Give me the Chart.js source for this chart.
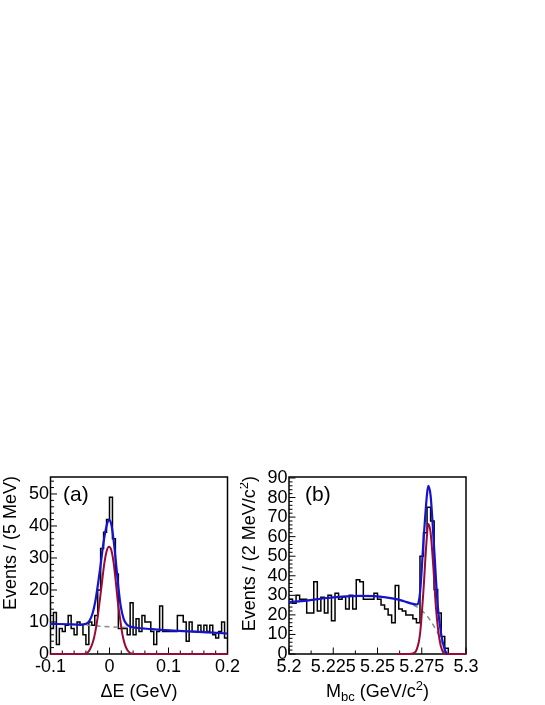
<!DOCTYPE html>
<html>
<head>
<meta charset="utf-8">
<script src="https://cdn.jsdelivr.net/npm/chart.js@4.4.1/dist/chart.umd.min.js"></script>
<style>
  html, body { margin: 0; padding: 0; background: #fff; }
  body { width: 545px; height: 705px; position: relative; overflow: hidden; }
  .panel { position: absolute; top: 460px; width: 245px; height: 245px; }
  #panelA { left: 0; }
  #panelB { left: 240px; }
</style>
</head>
<body>
<div class="panel" id="panelA"><canvas id="chartA" width="245" height="245"></canvas></div>
<div class="panel" id="panelB"><canvas id="chartB" width="245" height="245"></canvas></div>
<script>
// ---- (a) Delta E, 5 MeV bins from -0.1 to 0.2 GeV
const deLow = -0.1, deBin = 0.005;
const deCounts = [8, 13, 3, 8, 7, 9, 12, 8, 6, 10,
                  9, 6, 3, 10, 9, 12, 20, 33, 38, 42,
                  49, 36, 25, 8, 8, 8, 6, 16, 6, 11,
                  7, 12, 10, 10, 7, 3, 7, 15, 7, 7,
                  7, 7, 7, 12, 12, 10, 4, 10, 7, 7,
                  9, 7, 9, 7, 9, 6, 5, 7, 10, 5];
const deTicks = [-0.1, 0, 0.1, 0.2];
const deYTicks = [0, 10, 20, 30, 40, 50];
// fitted curves as [x, y]
const deFit = [[-0.1, 9.4], [-0.07, 9.3], [-0.05, 9.2], [-0.04, 9.4], [-0.034, 10.4], [-0.029, 12.5],
               [-0.024, 16.5], [-0.019, 22.5], [-0.015, 28], [-0.01, 35], [-0.005, 40], [-0.001, 41.9],
               [0.003, 40.5], [0.007, 35.5], [0.011, 28.5], [0.015, 21], [0.019, 15], [0.024, 11],
               [0.029, 9.3], [0.035, 8.6], [0.045, 8.2], [0.07, 7.8], [0.1, 7.4], [0.15, 6.9], [0.2, 6.4]];
const deSignal = [[-0.1, 0], [-0.045, 0], [-0.038, 0.3], [-0.033, 1.5], [-0.028, 3.8], [-0.024, 7],
                  [-0.02, 11.5], [-0.017, 16], [-0.013, 22], [-0.009, 28], [-0.005, 32], [-0.001, 33.5],
                  [0.003, 32.5], [0.007, 28.5], [0.011, 22], [0.014, 16.5], [0.018, 11], [0.022, 6],
                  [0.026, 3], [0.03, 1.3], [0.035, 0.3], [0.042, 0], [0.2, 0]];
const deBkg = [[-0.1, 9.4], [-0.04, 9.0], [0, 8.5], [0.04, 8.2], [0.07, 7.8], [0.1, 7.4], [0.15, 6.9], [0.2, 6.4]];

// ---- (b) Mbc, 2 MeV bins from 5.2 to 5.3 GeV
const mbcLow = 5.2, mbcBin = 0.002;
const mbcCounts = [28, 26, 30, 28, 28, 21, 21, 37, 22, 29,
                   21, 30, 17, 31, 28, 29, 23, 30, 23, 38,
                   37, 28, 28, 28, 31, 28, 25, 23, 20, 16,
                   35, 23, 22, 20, 20, 18, 16, 50, 62, 75,
                   68, 33, 21, 9, 3, 0, 0, 0, 0, 0];
const mbcTicks = [5.2, 5.225, 5.25, 5.275, 5.3];
const mbcYTicks = [0, 10, 20, 30, 40, 50, 60, 70, 80, 90];
const mbcFit = [[5.2, 26.5], [5.21, 27.3], [5.22, 28.5], [5.23, 29.3], [5.24, 29.7], [5.25, 29.5],
                [5.26, 28.2], [5.265, 27], [5.27, 25.6], [5.2725, 25.3], [5.274, 31], [5.276, 58],
                [5.278, 82], [5.2787, 86], [5.28, 81], [5.282, 54], [5.284, 25], [5.286, 10],
                [5.288, 2.2], [5.2893, 0]];
const mbcSignal = [[5.261, 0], [5.268, 0], [5.2705, 0.5], [5.272, 2], [5.274, 10], [5.276, 33],
                   [5.2775, 55], [5.2787, 66.5], [5.28, 62], [5.2815, 45], [5.283, 24], [5.285, 7.5],
                   [5.2865, 2], [5.2885, 0], [5.3, 0]];
const mbcBkg = [[5.2, 26.5], [5.21, 27.3], [5.22, 28.5], [5.23, 29.3], [5.24, 29.7], [5.25, 29.5],
                [5.26, 28.2], [5.265, 27], [5.27, 25.2], [5.274, 23], [5.278, 19.5], [5.282, 14],
                [5.285, 9], [5.2875, 3.5], [5.289, 0]];

const FONT = "'Liberation Sans', Arial, Helvetica, sans-serif";
const BLUE = '#1414cc';
const RED = '#990a3a';

function histPoints(low, width, counts) {
  const pts = counts.map((c, i) => ({ x: low + i * width, y: c }));
  pts.push({ x: low + counts.length * width, y: counts[counts.length - 1] });
  return pts;
}
const toPts = arr => arr.map(p => ({ x: p[0], y: p[1] }));

// text with sub/superscripts, optionally rotated
function drawRich(ctx, segs, x, y, align, angle) {
  ctx.save();
  ctx.translate(x, y);
  ctx.rotate(angle);
  ctx.fillStyle = '#000';
  ctx.textBaseline = 'alphabetic';
  const fontOf = s => (s.sub || s.sup ? '13px ' : '18px ') + FONT;
  let total = 0;
  segs.forEach(s => { ctx.font = fontOf(s); total += ctx.measureText(s.t).width; });
  let pos = align === 'center' ? -total / 2 : (align === 'right' ? -total : 0);
  segs.forEach(s => {
    ctx.font = fontOf(s);
    ctx.fillText(s.t, pos, s.sub ? 4 : (s.sup ? -7 : 0));
    pos += ctx.measureText(s.t).width;
  });
  ctx.restore();
}

// ROOT-like frame: box, inward ticks, panel tag and axis titles
const rootFrame = {
  id: 'rootFrame',
  beforeDatasetsDraw(chart, args, o) {
    const { ctx, chartArea: a, scales } = chart;
    const x = scales.x, y = scales.y;
    ctx.save();
    ctx.strokeStyle = '#000';
    ctx.lineWidth = 1.5;
    ctx.strokeRect(a.left, a.top, a.right - a.left, a.bottom - a.top);
    ctx.lineWidth = 1;
    ctx.beginPath();
    for (let k = 0; ; k++) {
      const v = x.min + k * o.xMinor;
      if (v > x.max + 1e-9) break;
      const px = x.getPixelForValue(v);
      const len = k % o.xEvery === 0 ? 6.5 : 3.5;
      ctx.moveTo(px, a.bottom);
      ctx.lineTo(px, a.bottom - len);
    }
    for (let k = 0; ; k++) {
      const v = y.min + k * o.yMinor;
      if (v > y.max + 1e-9) break;
      const py = y.getPixelForValue(v);
      const len = k % o.yEvery === 0 ? 6.5 : 3.5;
      ctx.moveTo(a.left, py);
      ctx.lineTo(a.left + len, py);
    }
    ctx.stroke();
    ctx.restore();
  },
  afterDraw(chart, args, o) {
    const { ctx, chartArea: a } = chart;
    ctx.save();
    ctx.fillStyle = '#000';
    ctx.font = '21px ' + FONT;
    ctx.fillText(o.tag, a.left + o.tagDx, a.top + 24);
    ctx.restore();
    drawRich(ctx, o.xTitle, (a.left + a.right) / 2, o.xTitleY, 'center', 0);
    drawRich(ctx, o.yTitle, o.yTitleX, a.top - 1, 'right', -Math.PI / 2);
  }
};

function makePanel(id, cfg) {
  const ctx = document.getElementById(id).getContext('2d');
  return new Chart(ctx, {
    type: 'line',
    data: {
      datasets: [
        { label: 'fit', data: toPts(cfg.fit), borderColor: BLUE, borderWidth: 2.2,
          cubicInterpolationMode: 'monotone', order: 1 },
        { label: 'signal', data: toPts(cfg.signal), borderColor: RED, borderWidth: 2,
          cubicInterpolationMode: 'monotone', order: 2 },
        { label: 'background', data: toPts(cfg.bkg), borderColor: '#8a8a8a', borderWidth: 1.5,
          borderDash: [5, 4], cubicInterpolationMode: 'monotone', order: 3 },
        { label: 'data', data: histPoints(cfg.low, cfg.bin, cfg.counts), borderColor: '#000',
          borderWidth: 1.5, stepped: 'before', order: 4 }
      ]
    },
    options: {
      responsive: false,
      animation: false,
      devicePixelRatio: 1,
      layout: { padding: { top: 17, right: cfg.padRight, left: 0, bottom: 0 } },
      elements: { point: { radius: 0 }, line: { fill: false } },
      datasets: { line: { clip: false } },
      plugins: {
        legend: { display: false },
        tooltip: { enabled: false },
        rootFrame: cfg.frame
      },
      scales: {
        x: {
          type: 'linear',
          min: cfg.xTicks[0],
          max: cfg.xTicks[cfg.xTicks.length - 1],
          grid: { display: false, drawTicks: false },
          border: { display: false },
          afterBuildTicks: s => { s.ticks = cfg.xTicks.map(v => ({ value: v })); },
          afterFit: s => { s.height = 51; },
          ticks: {
            autoSkip: false, maxRotation: 0, padding: 2, color: '#000',
            font: { family: FONT, size: 18 },
            callback: v => String(+v.toFixed(4))
          }
        },
        y: {
          min: 0,
          max: cfg.yMax,
          grid: { display: false, drawTicks: false },
          border: { display: false },
          afterBuildTicks: s => { s.ticks = cfg.yTicks.map(v => ({ value: v })); },
          afterFit: s => { s.width = cfg.yWidth; },
          ticks: {
            autoSkip: false, padding: 1.5, color: '#000',
            font: { family: FONT, size: 18 },
            callback: v => String(v)
          }
        }
      }
    },
    plugins: [rootFrame]
  });
}

makePanel('chartA', {
  low: deLow, bin: deBin, counts: deCounts,
  fit: deFit, signal: deSignal, bkg: deBkg,
  xTicks: deTicks, yTicks: deYTicks, yMax: 55.3,
  yWidth: 50.5, padRight: 17.5,
  frame: {
    xMinor: 0.02, xEvery: 5, yMinor: 2, yEvery: 5,
    tag: '(a)', tagDx: 12.5,
    xTitle: [{ t: '\u0394E (GeV)' }], xTitleY: 237,
    yTitle: [{ t: 'Events / (5 MeV)' }], yTitleX: 16
  }
});

makePanel('chartB', {
  low: mbcLow, bin: mbcBin, counts: mbcCounts,
  fit: mbcFit, signal: mbcSignal, bkg: mbcBkg,
  xTicks: mbcTicks, yTicks: mbcYTicks, yMax: 90.5,
  yWidth: 49, padRight: 19,
  frame: {
    xMinor: 0.0125, xEvery: 2, yMinor: 2, yEvery: 5,
    tag: '(b)', tagDx: 16,
    xTitle: [{ t: 'M' }, { t: 'bc', sub: true }, { t: ' (GeV/c' }, { t: '2', sup: true }, { t: ')' }],
    xTitleY: 237,
    yTitle: [{ t: 'Events / (2 MeV/c' }, { t: '2', sup: true }, { t: ')' }], yTitleX: 15
  }
});
</script>
</body>
</html>
